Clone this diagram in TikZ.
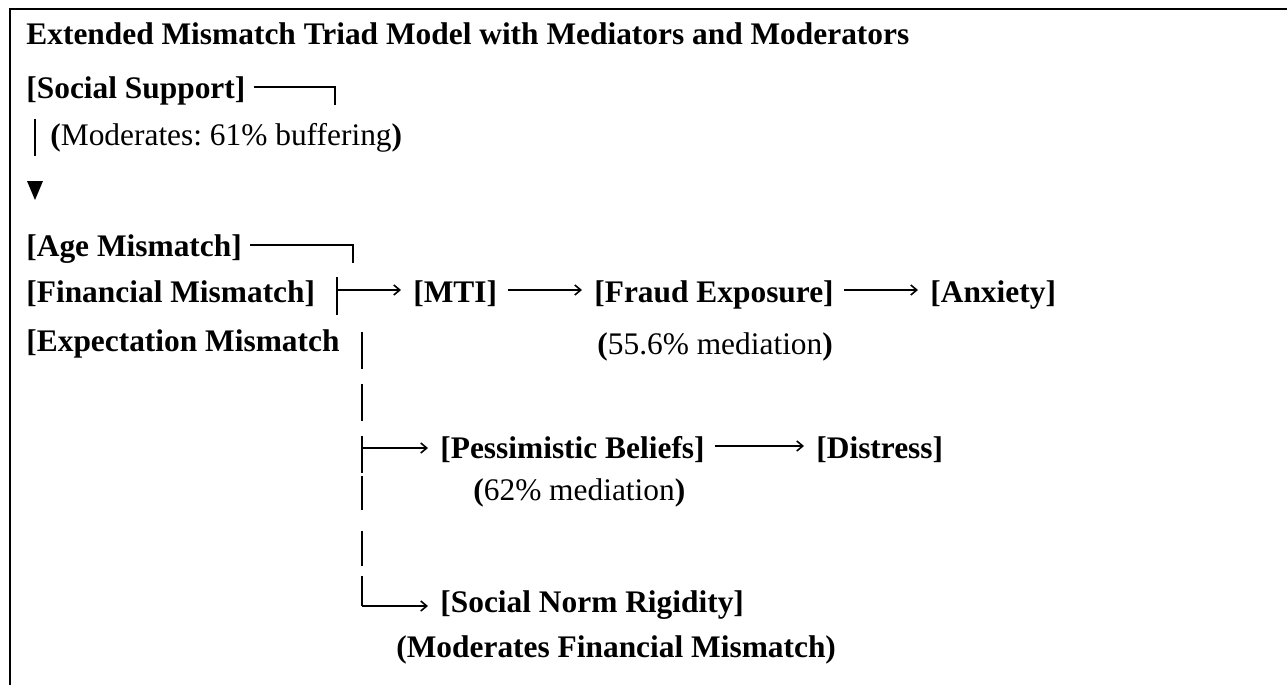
\documentclass[tikz,border=0pt]{standalone}
\usepackage{fontspec}
\setmainfont{Liberation Serif}
\frenchspacing
\usetikzlibrary{positioning,arrows.meta}
\newcommand\diagfont{\fontsize{15.7}{18}\selectfont}
\tikzset{
  lbl/.style={anchor=base west,inner sep=0pt,font=\diagfont\bfseries},
  note/.style={anchor=base west,inner sep=0pt,font=\diagfont},
  wire/.style={line width=1pt},
  arr/.style={line width=0.8pt,-{Straight Barb[length=3pt,width=5pt]}}
}
\begin{document}
\begin{tikzpicture}[x=0.5pt,y=-0.5pt]
\useasboundingbox (0,0) rectangle (1287,685);
\draw[line width=1pt] (10,685)--(10,9)--(1287,9);
\node[lbl] (title) at (26,45) {Extended Mismatch Triad Model with Mediators and Moderators};
% moderator on top
\node[lbl] (ss) at (26,98) {[Social Support]};
\coordinate (ssc) at (335,105);
\draw[wire] ([xshift=4pt,yshift=5.5pt]ss.base east) -| (ssc);
\draw[wire] (35,119)--(35,156);
\node[note] (mod) at (50,145) {\textbf{(}Moderates: 61\% buffering\textbf{)}};
\fill (27,181)--(43,181)--(35,200)--cycle;
% the three mismatches
\node[lbl] (age) at (26,256) {[Age Mismatch]};
\coordinate (agec) at (353,263);
\draw[wire] ([xshift=4pt,yshift=5.5pt]age.base east) -| (agec);
\node[lbl] (fin) at (26,302) {[Financial Mismatch]};
\node[lbl] (exp) at (26,351) {[Expectation Mismatch};
\draw[wire] (337,277)--(337,315);
\coordinate (finj) at (337,290);
% first path
\node[lbl] (mti) at (413,302) {[MTI]};
\node[lbl] (fraud) at (594,302) {[Fraud Exposure]};
\node[lbl] (anx) at (930,302) {[Anxiety]};
\draw[arr] (finj) -- ([xshift=-6pt,yshift=6pt]mti.base west);
\draw[arr] ([xshift=5pt,yshift=6pt]mti.base east) -- ([xshift=-6pt,yshift=6pt]fraud.base west);
\draw[arr] ([xshift=5pt,yshift=6pt]fraud.base east) -- ([xshift=-6pt,yshift=6pt]anx.base west);
\node[note] (med1) at (597,354) {\textbf{(}55.6\% mediation\textbf{)}};
% spine
\foreach \t/\b in {332/369,384/421,436/473,476/510,531/566} \draw[wire] (362,\t)--(362,\b);
\draw[wire] (362,576)--(362,606);
% second path
\coordinate (pj) at (362,448);
\node[lbl] (pess) at (440,458) {[Pessimistic Beliefs]};
\node[lbl] (dis) at (816,458) {[Distress]};
\draw[arr] (pj) -- ([xshift=-6pt,yshift=5pt]pess.base west);
\draw[arr] ([xshift=5pt,yshift=6pt]pess.base east) -- ([xshift=-6pt,yshift=6pt]dis.base west);
\node[note] (med2) at (473,500) {\textbf{(}62\% mediation\textbf{)}};
% third path
\coordinate (sj) at (362,606);
\node[lbl] (snr) at (440,612) {[Social Norm Rigidity]};
\draw[arr] (sj) -- ([xshift=-6pt,yshift=3pt]snr.base west);
\node[lbl] (modf) at (396,657) {(Moderates Financial Mismatch)};
\end{tikzpicture}
\end{document}
